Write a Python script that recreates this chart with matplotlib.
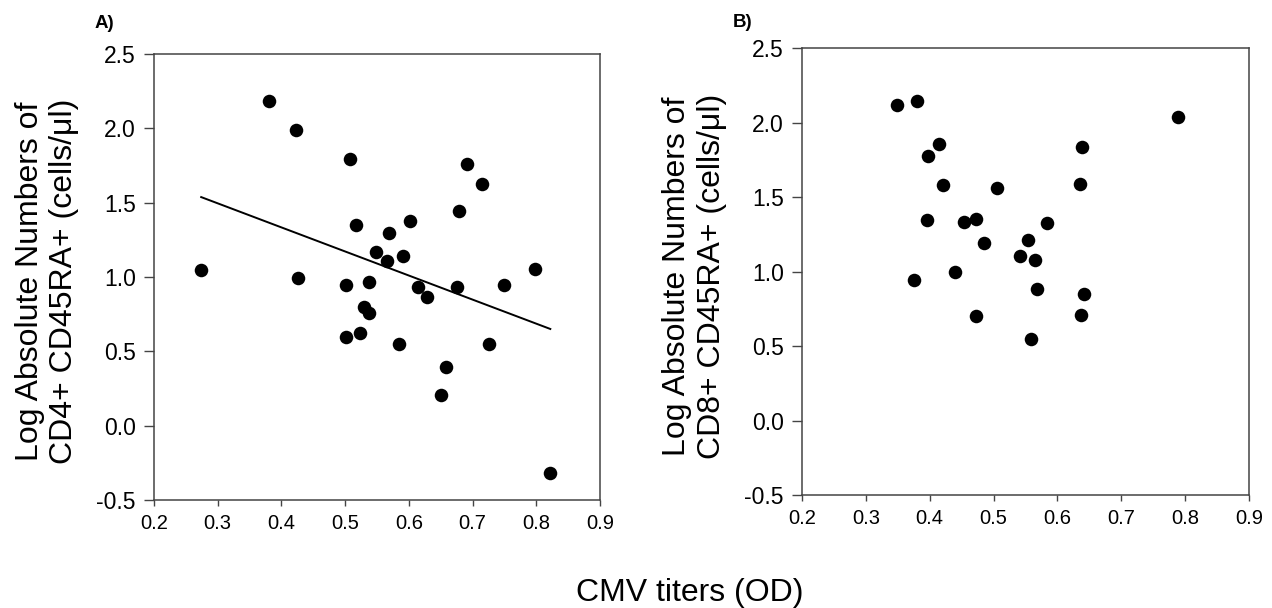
import numpy as np
import matplotlib.pyplot as plt

plt.rcParams['font.family'] = ['Liberation Sans', 'DejaVu Sans']

# PANEL A DATA (CD4+ CD45RA+)
cmv_a = [0.274, 0.381, 0.423, 0.426, 0.501, 0.501, 0.507, 0.517, 0.523, 0.529,
         0.537, 0.538, 0.548, 0.565, 0.569, 0.584, 0.590, 0.601, 0.614, 0.629,
         0.650, 0.659, 0.675, 0.678, 0.691, 0.714, 0.725, 0.749, 0.798, 0.822]
log_cd4 = [1.047, 2.184, 1.987, 0.996, 0.947, 0.599, 1.792, 1.348, 0.624, 0.801,
           0.967, 0.760, 1.168, 1.110, 1.294, 0.548, 1.139, 1.379, 0.931, 0.866,
           0.204, 0.397, 0.931, 1.442, 1.760, 1.626, 0.550, 0.946, 1.052, -0.320]

# PANEL B DATA (CD8+ CD45RA+)
cmv_b = [0.349, 0.380, 0.414, 0.398, 0.421, 0.505, 0.396, 0.453, 0.473, 0.485,
         0.584, 0.554, 0.541, 0.565, 0.440, 0.376, 0.472, 0.568, 0.559, 0.789,
         0.638, 0.635, 0.642, 0.637]
log_cd8 = [2.118, 2.149, 1.860, 1.775, 1.585, 1.560, 1.350, 1.336, 1.354, 1.193,
           1.327, 1.215, 1.106, 1.079, 0.998, 0.942, 0.702, 0.884, 0.548, 2.040,
           1.840, 1.589, 0.848, 0.709]

xticks = [0.2, 0.3, 0.4, 0.5, 0.6, 0.7, 0.8, 0.9]
yticks = [-0.5, 0.0, 0.5, 1.0, 1.5, 2.0, 2.5]

fig = plt.figure(figsize=(12.72, 6.08), dpi=100)
axA = fig.add_axes([0.1211, 0.1776, 0.3506, 0.7336])
axB = fig.add_axes([0.6305, 0.1859, 0.3514, 0.7344])

for ax, x, y, ylab in [
        (axA, cmv_a, log_cd4, "Log Absolute Numbers of\nCD4+ CD45RA+ (cells/\u03bcl)"),
        (axB, cmv_b, log_cd8, "Log Absolute Numbers of\nCD8+ CD45RA+ (cells/\u03bcl)")]:
    ax.scatter(x, y, s=95, color='black', zorder=3, linewidths=0)
    ax.set_xlim(0.2, 0.9)
    ax.set_ylim(-0.5, 2.5)
    ax.set_xticks(xticks)
    ax.set_xticklabels([f"{v:.1f}" for v in xticks])
    ax.set_yticks(yticks)
    ax.set_yticklabels([f"{v:.1f}" for v in yticks])
    ax.tick_params(axis='x', direction='out', length=4, width=1, labelsize=14.5,
                   color='#444444', pad=6)
    ax.tick_params(axis='y', direction='out', length=7, width=1, labelsize=16.5,
                   color='#444444', pad=6)
    for sp in ax.spines.values():
        sp.set_color('#444444')
        sp.set_linewidth(1.1)
    ax.set_ylabel(ylab, fontsize=23, linespacing=1.2, va='center')
    ax.yaxis.set_label_coords(-0.24, 0.49)

#REGRESSION LINE (PANEL A)
slope, icpt = np.polyfit(cmv_a, log_cd4, 1)
xl = np.array([min(cmv_a), max(cmv_a)])
axA.plot(xl, slope * xl + icpt, color='black', lw=1.4, zorder=2)

#PANEL TAGS AND SHARED X LABEL
fig.text(0.0747, 0.954, "A)", fontsize=13.5, fontweight='bold', va='baseline')
fig.text(0.576, 0.956, "B)", fontsize=13.5, fontweight='bold', va='baseline')
fig.text(0.5425, 0.012, "CMV titers (OD)", ha='center', va='baseline', fontsize=23)

plt.savefig("out.png", dpi=100)
